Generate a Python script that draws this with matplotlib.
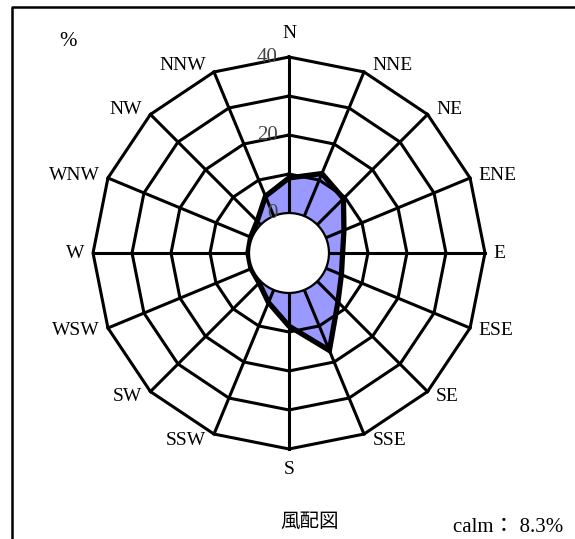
# plot.py
import numpy as np
import matplotlib.pyplot as plt
from matplotlib.patches import Circle, Polygon

# -----------------------------
# Data (wind direction frequency, %)
# -----------------------------
directions = ["N", "NNE", "NE", "ENE", "E", "ESE", "SE", "SSE",
              "S", "SSW", "SW", "WSW", "W", "WNW", "NW", "NNW"]
freq = [9.0, 11.8, 9.5, 5.0, 3.5, 4.3, 7.5, 16.8,
        8.5, 3.5, 0.6, 0.3, 0.3, 0.4, 1.3, 5.5]
ring_levels = [10, 20, 30, 40]
ring_labels = [0, 20, 40]
calm = 8.3

# -----------------------------
# Geometry
# -----------------------------
W, H = 575, 539
PX = 3.9          # pixels per 1 %
CX, CY = 289, 253 # centre in pixels (from top-left)
R0 = 10.25        # radius of the calm circle (0 % ring), in % units

serif = ['Liberation Serif', 'Noto Sans CJK JP']

fig = plt.figure(figsize=(W / 100, H / 100), dpi=100)
ax = fig.add_axes([0, 0, 1, 1])
ax.set_xlim(-CX / PX, (W - CX) / PX)
ax.set_ylim(-(H - CY) / PX, CY / PX)
ax.axis('off')

theta = np.deg2rad(np.arange(16) * 22.5)
sx, sy = np.sin(theta), np.cos(theta)

# filled data polygon
r = R0 + np.array(freq)
ax.add_patch(Polygon(np.column_stack([r * sx, r * sy]), closed=True,
                     facecolor='#9999ff', edgecolor='none', zorder=1))

# rings and spokes
for lv in ring_levels:
    rr = R0 + lv
    xs = np.append(rr * sx, rr * sx[0])
    ys = np.append(rr * sy, rr * sy[0])
    ax.plot(xs, ys, color='black', lw=2.2, zorder=2)
rmax = R0 + ring_levels[-1]
for i in range(16):
    ax.plot([R0 * sx[i], rmax * sx[i]], [R0 * sy[i], rmax * sy[i]],
            color='black', lw=2.2, zorder=2)

# data outline
ax.add_patch(Polygon(np.column_stack([r * sx, r * sy]), closed=True,
                     facecolor='none', edgecolor='black', lw=3.8,
                     joinstyle='miter', zorder=3))

# calm circle
ax.add_patch(Circle((0, 0), R0, facecolor='white', edgecolor='black',
                    lw=1.6, zorder=4))

# scale labels
for lv in ring_labels:
    ax.annotate(str(lv), (0, R0 + lv), xytext=(-8, 0), textcoords='offset points',
                ha='right', va='center', fontsize=15, color='#444444',
                family=serif, zorder=5)

# direction labels
for i, name in enumerate(directions):
    px, py = rmax * sx[i], rmax * sy[i]
    if abs(sx[i]) < 0.1:
        ha = 'center'
        off = (0, 17 if sy[i] > 0 else -15)
    else:
        ha = 'left' if sx[i] > 0 else 'right'
        off = (6 * np.sign(sx[i]), 5 * sy[i])
    ax.annotate(name, (px, py), xytext=off, textcoords='offset points',
                ha=ha, va='center', fontsize=14, family=serif, zorder=5)

# texts
ax.text(68 / W, 1 - 42 / H, '%', transform=ax.transAxes, ha='center',
        va='center', fontsize=15, family=serif)
ax.text(310 / W, 1 - 521 / H, '風配図', transform=ax.transAxes, ha='center',
        va='center', fontsize=14, family=['Noto Sans CJK JP'])
ax.text(563 / W, 1 - 527 / H, f'calm： {calm}%', transform=ax.transAxes,
        ha='right', va='center', fontsize=15, family=serif)

# frame (left + top)
ax.plot([12 / W, 12 / W, 1.0], [0, 1 - 7 / H, 1 - 7 / H], color='black',
        lw=1.8, transform=ax.transAxes, clip_on=False)

plt.savefig('out.png', dpi=100)
